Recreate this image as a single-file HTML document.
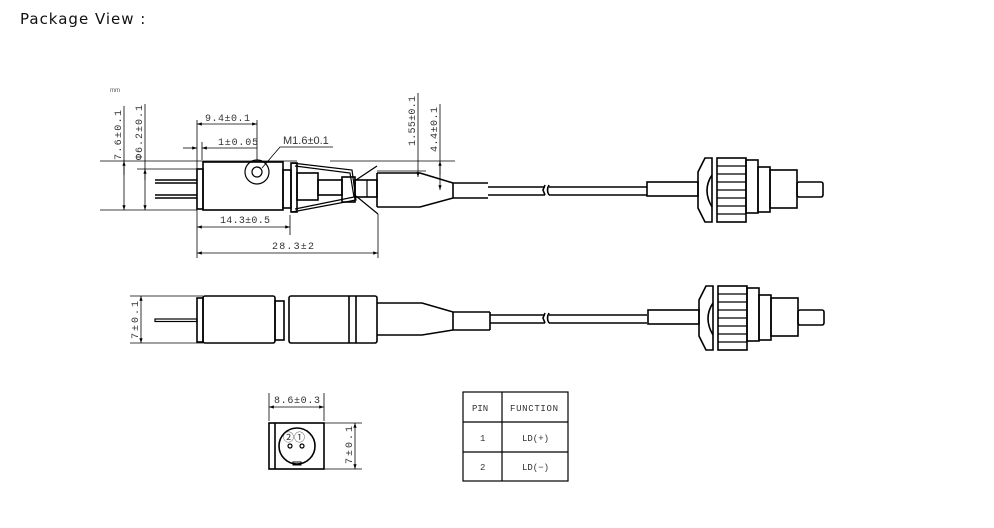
<!DOCTYPE html>
<html><head><meta charset="utf-8"><style>
html,body{margin:0;padding:0;background:#fff;width:994px;height:528px;overflow:hidden}
svg{position:absolute;left:0;top:0}
.t{font-family:"Liberation Mono","Noto Serif CJK SC",monospace;font-size:10px;fill:#333}
</style></head><body>
<svg width="994" height="528" viewBox="0 0 994 528" xmlns="http://www.w3.org/2000/svg">
<defs><marker id="a" markerWidth="6" markerHeight="6" refX="6" refY="3" orient="auto-start-reverse"><path d="M0,1 L6,3 L0,5z" fill="#000"/></marker></defs>
<text x="20" y="24" font-family="'DejaVu Sans','Liberation Sans',sans-serif" font-size="15" letter-spacing="1" fill="#111">Package View :</text>
<text x="110" y="92" font-size="6" font-family="Liberation Sans" fill="#555">mm</text>
<g fill="none" stroke="#000" stroke-width="1.6">
<!-- TOP VIEW -->
<line x1="155" y1="180" x2="197" y2="180"/><line x1="155" y1="183" x2="197" y2="183"/>
<line x1="155" y1="195" x2="197" y2="195"/><line x1="155" y1="198" x2="197" y2="198"/>
<rect x="197" y="169" width="6" height="40"/>
<rect x="203" y="162" width="80" height="48"/>
<circle cx="257" cy="172" r="12" stroke-width="1.2"/><circle cx="257" cy="172" r="5" stroke-width="1.2"/>
<rect x="283" y="170" width="8" height="38"/>
<rect x="291" y="163" width="6" height="49"/>
<path d="M292,163 L352,170 L356,200 L292,212" stroke-width="1.2"/>
<path d="M295,166 L350,173 L354,197 L295,209" stroke-width="1.2"/>
<line x1="356" y1="180" x2="377" y2="166" stroke-width="1.2"/><line x1="356" y1="196" x2="378" y2="214" stroke-width="1.2"/>
<rect x="297" y="173" width="21" height="27"/>
<rect x="318" y="180" width="24" height="15"/>
<rect x="342" y="177" width="13" height="25"/>
<rect x="355" y="180" width="22" height="17"/>
<line x1="367" y1="180" x2="367" y2="197" stroke-width="1.2"/>
<path d="M377,173 H420 L453,183 H488 M377,207 H420 L453,198 H488 M377,173 V207"/>
<line x1="453" y1="183" x2="453" y2="198"/>
<path d="M488,187 H545 M488,195 H545 M545,185 l-2,5 l2,5 M549,185 q-3,5 0,10 M549,187 H647 M549,195 H647"/>
<!-- connector top -->
<g id="conn">
<rect x="647" y="182" width="51" height="14"/>
<path d="M712,158 L705,158 L698,172 V208 L705,222 L712,222 Z"/>
<path d="M712,175 Q702,190 712,207"/>
<rect x="717" y="158" width="29" height="64"/>
<g stroke-width="1.2"><line x1="717" y1="166" x2="746" y2="166"/><line x1="717" y1="174" x2="746" y2="174"/><line x1="717" y1="182" x2="746" y2="182"/><line x1="717" y1="190" x2="746" y2="190"/><line x1="717" y1="198" x2="746" y2="198"/><line x1="717" y1="206" x2="746" y2="206"/><line x1="717" y1="214" x2="746" y2="214"/></g>
<rect x="746" y="160" width="12" height="53"/>
<rect x="758" y="167" width="12" height="45"/>
<rect x="770" y="170" width="27" height="38"/>
<rect x="797" y="182" width="26" height="15" rx="2"/>
</g>
<!-- BOTTOM VIEW -->
<rect x="155" y="319" width="42" height="2.5" stroke-width="1.2"/>
<rect x="197" y="298" width="6" height="44"/>
<rect x="203" y="296" width="72" height="47" rx="2"/>
<rect x="275" y="301" width="9" height="39"/>
<rect x="289" y="296" width="88" height="47" rx="2"/>
<line x1="349" y1="296" x2="349" y2="343"/><line x1="356" y1="296" x2="356" y2="343"/>
<path d="M377,303 H422 L453,312 H490 M377,335 H422 L453,330 H490 M453,312 V330 M490,312 V330"/>
<path d="M490,315 H545 M490,323 H545 M545,313 l-2,5 l2,5 M549,313 q-3,5 0,10 M549,315 H647 M549,323 H647"/>
<use href="#conn" transform="translate(1,128)"/>
<!-- END VIEW -->
<rect x="269" y="423" width="55" height="46"/>
<line x1="275" y1="423" x2="275" y2="469"/>
<circle cx="297" cy="446" r="18"/>
<circle cx="290" cy="446" r="2" stroke-width="1.2"/><circle cx="302" cy="446" r="2" stroke-width="1.2"/>
<rect x="293" y="462" width="8" height="3" stroke-width="1"/>
<!-- TABLE -->
<rect x="463" y="392" width="105" height="89" stroke-width="1.2"/>
<line x1="502" y1="392" x2="502" y2="481" stroke-width="1.2"/>
<line x1="463" y1="422" x2="568" y2="422" stroke-width="1.2"/>
<line x1="463" y1="452" x2="568" y2="452" stroke-width="1.2"/>
</g>
<!-- dimension lines -->
<g fill="none" stroke="#000" stroke-width="0.8">
<line x1="100" y1="161" x2="297" y2="161"/><line x1="330" y1="161" x2="455" y2="161"/>
<line x1="100" y1="210" x2="197" y2="210"/><line x1="137" y1="169" x2="197" y2="169"/>
<line x1="124" y1="106" x2="124" y2="210" marker-end="url(#a)"/><line x1="124" y1="175" x2="124" y2="161" marker-end="url(#a)"/>
<line x1="145" y1="104" x2="145" y2="210" marker-end="url(#a)"/><line x1="145" y1="180" x2="145" y2="169" marker-end="url(#a)"/>
<line x1="197" y1="120" x2="197" y2="258"/><line x1="257" y1="120" x2="257" y2="160"/>
<line x1="197" y1="124" x2="257" y2="124" marker-start="url(#a)" marker-end="url(#a)"/>
<line x1="202" y1="142" x2="202" y2="160"/>
<line x1="183" y1="148" x2="197" y2="148" marker-end="url(#a)"/><line x1="257" y1="148" x2="202" y2="148" marker-end="url(#a)"/>
<path d="M262,168 L280,147 H333"/>
<line x1="290" y1="215" x2="290" y2="235"/><line x1="378" y1="214" x2="378" y2="258"/>
<line x1="197" y1="227" x2="290" y2="227" marker-start="url(#a)" marker-end="url(#a)"/>
<line x1="197" y1="253" x2="378" y2="253" marker-start="url(#a)" marker-end="url(#a)"/>
<line x1="377" y1="171" x2="426" y2="171"/><line x1="418" y1="93" x2="418" y2="177" marker-end="url(#a)"/>
<line x1="440" y1="104" x2="440" y2="190" marker-end="url(#a)"/><line x1="440" y1="175" x2="440" y2="161" marker-end="url(#a)"/>
<line x1="130" y1="296" x2="203" y2="296"/><line x1="130" y1="343" x2="203" y2="343"/>
<line x1="141" y1="296" x2="141" y2="343" marker-start="url(#a)" marker-end="url(#a)"/>
<line x1="269" y1="393" x2="269" y2="421"/><line x1="324" y1="393" x2="324" y2="421"/>
<line x1="269" y1="407" x2="324" y2="407" marker-start="url(#a)" marker-end="url(#a)"/>
<line x1="324" y1="423" x2="362" y2="423"/><line x1="324" y1="469" x2="362" y2="469"/>
<line x1="355" y1="423" x2="355" y2="469" marker-start="url(#a)" marker-end="url(#a)"/>
</g>
<g class="t">
<text transform="translate(121,160) rotate(-90)" textLength="50">7.6±0.1</text>
<text transform="translate(142,160) rotate(-90)" textLength="55">Φ6.2±0.1</text>
<text x="205" y="121" textLength="45">9.4±0.1</text>
<text x="218" y="145" textLength="40">1±0.05</text>
<text x="283" y="144" font-family="Liberation Sans" font-size="11">M1.6±0.1</text>
<text x="220" y="223" textLength="50">14.3±0.5</text>
<text x="272" y="249" textLength="42">28.3±2</text>
<text transform="translate(415,146) rotate(-90)" textLength="50">1.55±0.1</text>
<text transform="translate(437,152) rotate(-90)" textLength="45">4.4±0.1</text>
<text transform="translate(138,339) rotate(-90)" textLength="38">7±0.1</text>
<text x="274" y="403" textLength="46">8.6±0.3</text>
<text transform="translate(352,464) rotate(-90)" textLength="38">7±0.1</text>
<text x="283" y="441" font-size="11" font-family="Noto Sans CJK SC, sans-serif">②①</text>
<text x="472" y="411" font-size="9">PIN</text>
<text x="510" y="411" font-size="9" textLength="48">FUNCTION</text>
<text x="480" y="441" font-size="9">1</text>
<text x="522" y="441" font-size="9">LD(+)</text>
<text x="480" y="470" font-size="9">2</text>
<text x="522" y="470" font-size="9">LD(−)</text>
</g>
</svg>
</body></html>
